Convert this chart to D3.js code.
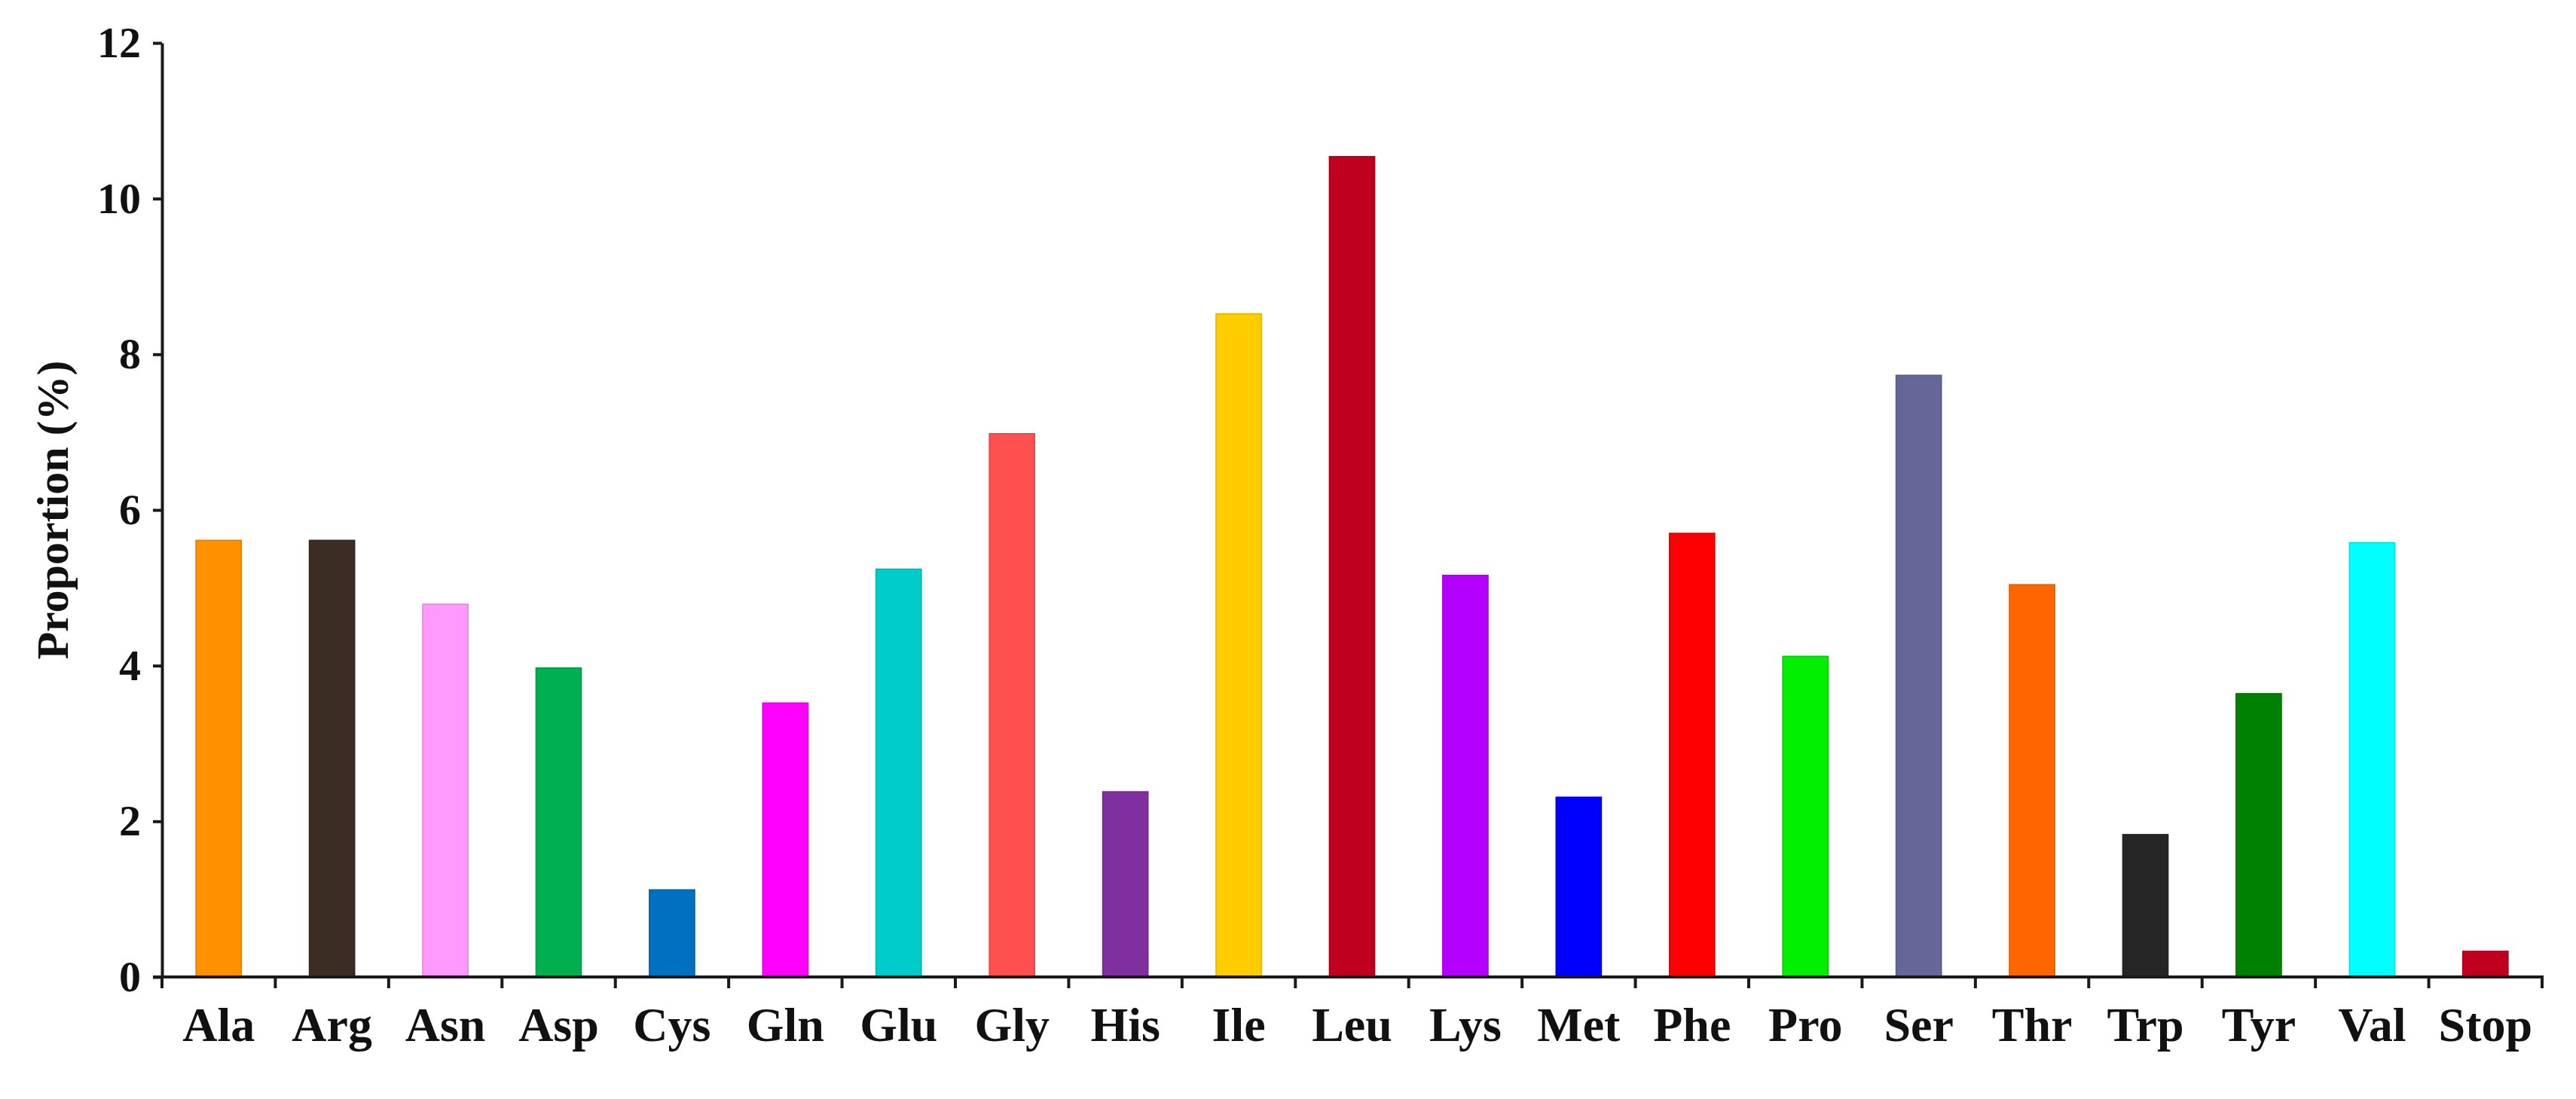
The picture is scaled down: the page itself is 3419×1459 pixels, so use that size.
<!DOCTYPE html>
<html>
<head>
<meta charset="utf-8">
<script src="https://cdn.jsdelivr.net/npm/d3@7/dist/d3.min.js"></script>
<style>
  html, body { margin: 0; padding: 0; background: #ffffff; }
  svg { display: block; }
</style>
</head>
<body>
<script>
// ---- data ----
const categories = ["Ala","Arg","Asn","Asp","Cys","Gln","Glu","Gly","His","Ile","Leu","Lys","Met","Phe","Pro","Ser","Thr","Trp","Tyr","Val","Stop"];
const proportions = [5.61, 5.61, 4.79, 3.97, 1.12, 3.52, 5.24, 6.98, 2.38, 8.52, 10.54, 5.16, 2.31, 5.70, 4.12, 7.73, 5.04, 1.83, 3.64, 5.58, 0.33];
const barColors = ["#FF9000","#3B2C24","#FF99FF","#00B050","#0070C0","#FF00FF","#00CCCC","#FF5050","#7F2FA0","#FFCC00","#C0001F","#B400FF","#0000FF","#FF0000","#00EE00","#666699","#FF6600","#262626","#008000","#00FFFF","#C0001F"];
const yTicks = [0, 2, 4, 6, 8, 10, 12];
const yLabel = "Proportion (%)";

// ---- layout ----
const W = 3419, H = 1459;
const mLeft = 215, mRight = 3374, mTop = 57, mBottom = 1297;
const font = "'Liberation Serif', 'DejaVu Serif', serif";

const svg = d3.select("body").append("svg")
  .attr("width", W).attr("height", H)
  .attr("viewBox", `0 0 ${W} ${H}`);

const x = d3.scaleBand().domain(categories).range([mLeft, mRight]).padding(0);
const y = d3.scaleLinear().domain([0, 12]).range([mBottom, mTop]);

const data = categories.map((c, i) => ({ c, v: proportions[i], col: barColors[i] }));

// bars
const bw = x.bandwidth() * 0.4;
svg.append("g").selectAll("rect").data(data).join("rect")
  .attr("x", d => x(d.c) + (x.bandwidth() - bw) / 2)
  .attr("width", bw)
  .attr("y", d => y(d.v))
  .attr("height", d => y(0) - y(d.v))
  .attr("fill", d => d.col)
  .attr("stroke", d => d3.color(d.col).darker(0.4))
  .attr("stroke-width", 1.5);

// y axis
const yAxis = svg.append("g")
  .attr("transform", `translate(${mLeft},0)`)
  .call(d3.axisLeft(y).tickValues(yTicks).tickFormat(d3.format("d"))
    .tickSize(12).tickSizeOuter(0).tickPadding(16));
yAxis.select(".domain").attr("stroke", "#1a1a1a").attr("stroke-width", 4);
yAxis.selectAll(".tick line").attr("stroke", "#1a1a1a").attr("stroke-width", 4);
yAxis.selectAll(".tick text")
  .attr("font-family", font).attr("font-weight", "bold")
  .attr("font-size", 58).attr("fill", "#111");

// x axis (labels centered under bands, ticks at band boundaries)
const xAxis = svg.append("g")
  .attr("transform", `translate(0,${mBottom})`)
  .call(d3.axisBottom(x).tickSize(0).tickSizeOuter(0).tickPadding(40));
xAxis.select(".domain").remove();
xAxis.selectAll(".tick text")
  .attr("font-family", font).attr("font-weight", "bold")
  .attr("font-size", 64).attr("fill", "#111");

const edges = categories.map(c => x(c)).concat([x(categories[categories.length - 1]) + x.bandwidth()]);
svg.append("g").selectAll("line").data(edges).join("line")
  .attr("x1", d => d).attr("x2", d => d)
  .attr("y1", mBottom).attr("y2", mBottom + 15)
  .attr("stroke", "#1a1a1a").attr("stroke-width", 4);

svg.append("line")
  .attr("x1", mLeft - 12).attr("x2", mRight + 2)
  .attr("y1", mBottom).attr("y2", mBottom)
  .attr("stroke", "#1a1a1a").attr("stroke-width", 4);

// y label
svg.append("text")
  .attr("transform", `translate(70,${(mTop + mBottom) / 2}) rotate(-90)`)
  .attr("text-anchor", "middle")
  .attr("dominant-baseline", "central")
  .attr("font-family", font).attr("font-weight", "bold")
  .attr("font-size", 60).attr("fill", "#111")
  .text(yLabel);
</script>
</body>
</html>
